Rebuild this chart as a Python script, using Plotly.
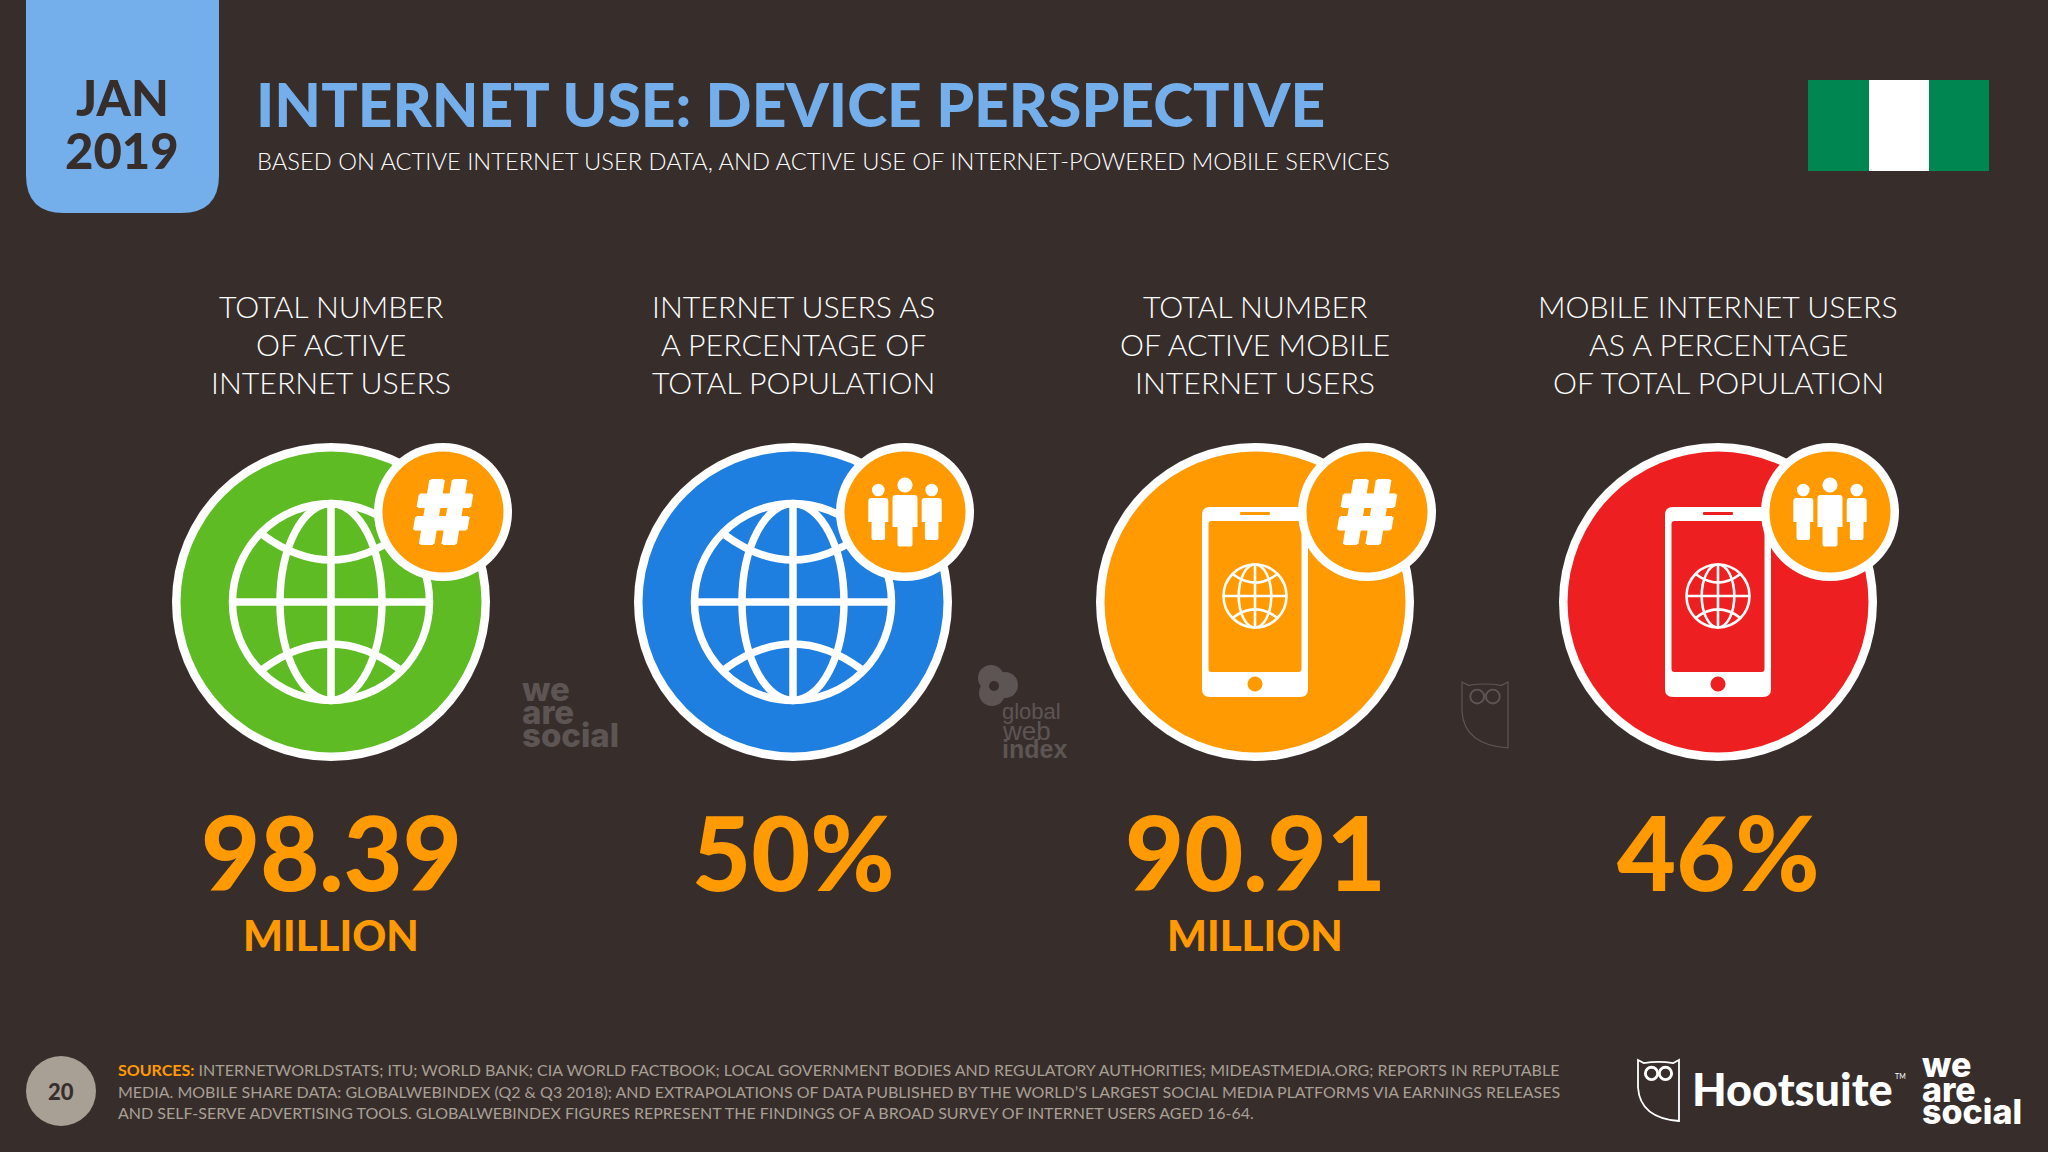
import plotly.graph_objects as go

# ─── DATA ─────────────────────────────────────────────────────────────────
metric_labels = [
    ["TOTAL NUMBER", "OF ACTIVE", "INTERNET USERS"],
    ["INTERNET USERS AS", "A PERCENTAGE OF", "TOTAL POPULATION"],
    ["TOTAL NUMBER", "OF ACTIVE MOBILE", "INTERNET USERS"],
    ["MOBILE INTERNET USERS", "AS A PERCENTAGE", "OF TOTAL POPULATION"],
]
metric_values = ["98.39", "50%", "90.91", "46%"]
metric_units = ["MILLION", "", "MILLION", ""]
circle_colors = ["#5FBB23", "#1F7FE0", "#FF9A02", "#EE1F20"]
icon_kinds = ["globe", "globe", "phone", "phone"]
badge_kinds = ["hash", "people", "hash", "people"]

title_text = "INTERNET USE: DEVICE PERSPECTIVE"
subtitle_text = "BASED ON ACTIVE INTERNET USER DATA, AND ACTIVE USE OF INTERNET-POWERED MOBILE SERVICES"
source_lines = [
    "<b><span style='color:#FF9A02'>SOURCES:</span></b> INTERNETWORLDSTATS; ITU; WORLD BANK; CIA WORLD FACTBOOK; LOCAL GOVERNMENT BODIES AND REGULATORY AUTHORITIES; MIDEASTMEDIA.ORG; REPORTS IN REPUTABLE",
    "MEDIA. MOBILE SHARE DATA: GLOBALWEBINDEX (Q2 &amp; Q3 2018); AND EXTRAPOLATIONS OF DATA PUBLISHED BY THE WORLD’S LARGEST SOCIAL MEDIA PLATFORMS VIA EARNINGS RELEASES",
    "AND SELF-SERVE ADVERTISING TOOLS. GLOBALWEBINDEX FIGURES REPRESENT THE FINDINGS OF A BROAD SURVEY OF INTERNET USERS AGED 16-64.",
]

# ─── STYLE ────────────────────────────────────────────────────────────────
BG = "#372E2C"
BLUE = "#74AFEC"
ORANGE = "#FF9A02"
WHITE = "#FFFFFF"
SOFT = "#A89F95"
GHOST = "#5D5554"
FONT = "Lato"
HASH_SHADOW = "1.5px 0 0 #fff,-1.5px 0 0 #fff,0 1px 0 #fff,0 -1px 0 #fff"

shapes = []
notes = []


def circle(cx, cy, r, fill=None, line=None, width=0):
    shapes.append(dict(
        type="circle", x0=cx - r, x1=cx + r, y0=cy - r, y1=cy + r,
        fillcolor=fill if fill else "rgba(0,0,0,0)",
        line=dict(color=line if line else "rgba(0,0,0,0)", width=width),
    ))


def path(d, fill=None, line=None, width=0):
    shapes.append(dict(
        type="path", path=d,
        fillcolor=fill if fill else "rgba(0,0,0,0)",
        line=dict(color=line if line else "rgba(0,0,0,0)", width=width),
    ))


def round_rect(x0, y0, x1, y1, r, fill):
    path(f"M{x0+r},{y0} L{x1-r},{y0} Q{x1},{y0} {x1},{y0+r} L{x1},{y1-r} Q{x1},{y1} {x1-r},{y1} "
         f"L{x0+r},{y1} Q{x0},{y1} {x0},{y1-r} L{x0},{y0+r} Q{x0},{y0} {x0+r},{y0} Z", fill=fill)


def note(x, y, text, size, color=WHITE, weight=400, family=FONT, anchor="center", shadow=None):
    font = dict(family=family, size=size, color=color, weight=weight)
    if shadow:
        font["shadow"] = shadow
    notes.append(dict(x=x, y=y, text=text, showarrow=False, xanchor=anchor, yanchor="middle", font=font))


def globe(cx, cy, r, width):
    k = r / 98.5
    circle(cx, cy, r, line=WHITE, width=width)
    path(f"M{cx},{cy-r} L{cx},{cy+r}", line=WHITE, width=width)
    path(f"M{cx-r},{cy} L{cx+r},{cy}", line=WHITE, width=width)
    shapes.append(dict(type="circle", x0=cx - 51 * k, x1=cx + 51 * k, y0=cy - r, y1=cy + r,
                       fillcolor="rgba(0,0,0,0)", line=dict(color=WHITE, width=width)))
    for s in (-1, 1):
        path(f"M{cx-68*k},{cy+s*67*k} Q{cx},{cy+s*17*k} {cx+68*k},{cy+s*67*k}", line=WHITE, width=width)


def phone(cx, cy, fill):
    round_rect(cx - 53, cy - 95, cx + 53, cy + 95, 8, WHITE)
    round_rect(cx - 46.5, cy - 81, cx + 46.5, cy + 70, 3, fill)
    circle(cx, cy + 82, 7.5, fill=fill)
    round_rect(cx - 15, cy - 90, cx + 15, cy - 87, 1, fill)
    globe(cx, cy - 6, 31.5, 2.6)


def person(cx, top, mid, bottom, half, leg):
    path(f"M{cx-half},{top+3} Q{cx-half},{top} {cx-half+3},{top} L{cx+half-3},{top} Q{cx+half},{top} {cx+half},{top+3} "
         f"L{cx+half},{mid} L{cx+leg},{mid} L{cx+leg},{bottom-2} Q{cx+leg},{bottom} {cx+leg-2},{bottom} "
         f"L{cx-leg+2},{bottom} Q{cx-leg},{bottom} {cx-leg},{bottom-2} L{cx-leg},{mid} L{cx-half},{mid} Z", fill=WHITE)


def people(cx, cy):
    circle(cx, cy - 27, 7.6, fill=WHITE)
    person(cx, cy - 17, cy + 15, cy + 34.5, 12.5, 7.5)
    for s in (-1, 1):
        circle(cx + s * 26.7, cy - 22, 6.3, fill=WHITE)
        person(cx + s * 26.7, cy - 14, cy + 10, cy + 28, 10, 6.8)


def owl(x0, y0, w, h, color, width):
    x1 = x0 + w
    y1 = y0 + h
    path(f"M{x0},{y0} L{x0+w*.14},{y0+h*.05} Q{x0+w*.5},{y0+h*.01} {x1-w*.14},{y0+h*.05} L{x1},{y0} "
         f"L{x1},{y1} Q{x0+w*.05},{y1-h*.05} {x0},{y0+h*.45} Z", line=color, width=width)
    for s in (-1, 1):
        circle(x0 + w * (.5 + s * .17), y0 + h * .22, w * .15, line=color, width=width * 1.6)


# ─── HEADER ───────────────────────────────────────────────────────────────
round_rect(26, -50, 219, 213, 38, BLUE)
note(122, 97, "JAN", 49, BG, 900)
note(122, 150, "2019", 49, BG, 900)
note(254, 103, title_text, 60.5, BLUE, 900, anchor="left")
note(255, 161, subtitle_text, 23.7, WHITE, 300, anchor="left")

shapes.append(dict(type="rect", x0=1808, x1=1869, y0=80, y1=171, fillcolor="#008751", line=dict(width=0)))
shapes.append(dict(type="rect", x0=1869, x1=1929, y0=80, y1=171, fillcolor=WHITE, line=dict(width=0)))
shapes.append(dict(type="rect", x0=1929, x1=1989, y0=80, y1=171, fillcolor="#008751", line=dict(width=0)))

# ─── METRICS ──────────────────────────────────────────────────────────────
centers = [331, 793, 1255, 1718]
for i, cx in enumerate(centers):
    cy = 602
    for j, line in enumerate(metric_labels[i]):
        note(cx, 306 + j * 38, line, 30.3, WHITE, 300)

    circle(cx, cy, 159, fill=WHITE)
    circle(cx, cy, 150.5, fill=circle_colors[i])
    if icon_kinds[i] == "globe":
        globe(cx, cy, 98.5, 7.5)
    else:
        phone(cx, cy, circle_colors[i])

    bx, by = cx + 112, 512
    circle(bx, by, 69, fill=WHITE)
    circle(bx, by, 60.5, fill=ORANGE)
    if badge_kinds[i] == "hash":
        note(bx, by, "#", 88, WHITE, 900, family="Inter", shadow=HASH_SHADOW)
    else:
        people(bx, by)

    note(cx, 851, metric_values[i], 102, ORANGE, 900)
    if metric_units[i]:
        note(cx, 935, metric_units[i], 42, ORANGE, 900)

# ─── WATERMARKS ───────────────────────────────────────────────────────────
note(520, 689, "we", 33, GHOST, 800, family="Inter", anchor="left")
note(520, 712, "are", 33, GHOST, 800, family="Inter", anchor="left")
note(520, 735, "social", 33, GHOST, 800, family="Inter", anchor="left")

circle(991, 678, 13, fill=GHOST)
circle(1005, 685, 13, fill=GHOST)
circle(992, 693, 13, fill=GHOST)
circle(994, 686, 5, fill=BG)
note(1000, 711, "global", 22, GHOST, 400, family="Liberation Sans", anchor="left")
note(1000, 731, "web", 26, GHOST, 400, family="Liberation Sans", anchor="left")
note(1000, 749, "index", 25, GHOST, 700, family="Liberation Sans", anchor="left")

owl(1462, 682, 46, 66, GHOST, 1.2)

# ─── FOOTER ───────────────────────────────────────────────────────────────
circle(61, 1091, 35, fill=SOFT)
note(61, 1091, "20", 22, BG, 900)
for line, y in zip(source_lines, [1069, 1091, 1112]):
    note(116, y, line, 16, SOFT, 400, anchor="left")

owl(1638, 1060, 41, 61, WHITE, 1.8)
note(1690, 1089, "Hootsuite", 45, WHITE, 900, anchor="left")
note(1893, 1076, "TM", 7, WHITE, 400, anchor="left")
note(1920, 1064, "we", 34, WHITE, 800, family="Inter", anchor="left")
note(1920, 1089, "are", 34, WHITE, 800, family="Inter", anchor="left")
note(1920, 1111, "social", 34, WHITE, 800, family="Inter", anchor="left")

# ─── FIGURE ───────────────────────────────────────────────────────────────
fig = go.Figure()
fig.update_layout(
    width=2048,
    height=1152,
    margin=dict(l=0, r=0, t=0, b=0),
    paper_bgcolor=BG,
    plot_bgcolor=BG,
    showlegend=False,
    shapes=shapes,
    annotations=notes,
    xaxis=dict(range=[0, 2048], visible=False, fixedrange=True),
    yaxis=dict(range=[1152, 0], visible=False, fixedrange=True),
)

# el body trae margen de 8px por defecto
fig.write_html(
    "out.html",
    config=dict(displayModeBar=False),
    post_script="document.body.style.margin='0';document.body.style.background='#372E2C';",
)
